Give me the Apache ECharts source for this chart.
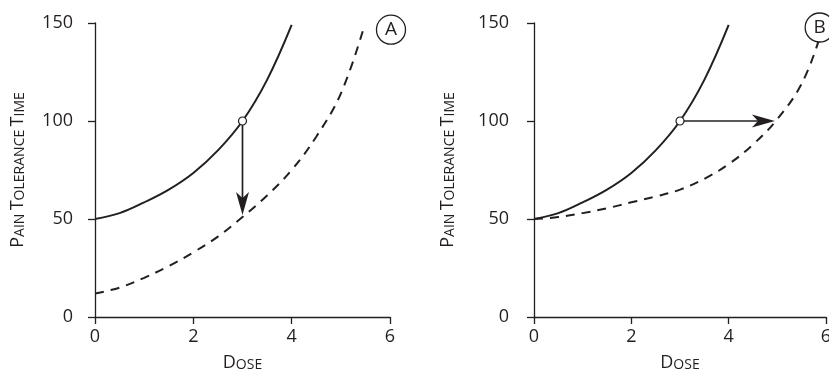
<!DOCTYPE html>
<html>
<head>
<meta charset="utf-8">
<script src="https://cdn.jsdelivr.net/npm/echarts@6/dist/echarts.min.js"></script>
<style>
  html, body { margin: 0; padding: 0; background: #ffffff; }
  #chart { width: 829px; height: 371px; }
</style>
</head>
<body>
<div id="chart"></div>
<script>
// ---- data ----
const xTicks = [0, 2, 4, 6];
const yTicks = [0, 50, 100, 150];

const doseSolid = [0, 0.5, 1, 1.5, 2, 2.5, 3, 3.5, 4];
const tolSolid  = [50, 53, 58.5, 65, 73.5, 85, 100, 121, 149];

const doseDashA = [0, 0.5, 1, 1.5, 2, 2.5, 3, 3.5, 4, 4.5, 5, 5.46];
const tolDashA  = [12, 15, 20, 26, 33, 41, 51, 62, 75, 92, 114, 147];

const doseDashB = [0, 0.5, 1, 1.5, 2, 2.5, 3, 3.5, 4, 4.5, 5, 5.5, 5.85];
const tolDashB  = [50, 51, 53, 55.5, 58.5, 61.5, 65, 70.5, 78, 88, 101, 119, 141];

const markerA = [3, 100];
const markerB = [3, 100];
const arrowA = [3, 100, 3, 52];     // from (x,y) to (x,y)
const arrowB = [3, 100, 4.95, 100];
const panelLabels = ['A', 'B'];
const labelPosA = [6.02, 146.6];
const labelPosB = [5.87, 147.7];

// ---- helpers ----
const INK = '#231f20';
const FONT = 'Open Sans';
const zip = (xs, ys) => xs.map((x, i) => [x, ys[i]]);

const nameRich = {
  a: { fontFamily: FONT, fontSize: 18, lineHeight: 18, color: INK, verticalAlign: 'bottom' },
  b: { fontFamily: FONT, fontSize: 14, lineHeight: 14, color: INK, verticalAlign: 'bottom' }
};

function xAxisCfg(gridIndex) {
  return {
    type: 'value', gridIndex, min: xTicks[0], max: xTicks[xTicks.length - 1], interval: 2,
    name: '{a|D}{b|OSE}', nameLocation: 'middle', nameGap: 37,
    nameTextStyle: { rich: nameRich },
    axisLine: { show: true, lineStyle: { color: INK, width: 1.3 } },
    axisTick: { show: true, inside: false, length: 7, lineStyle: { color: INK, width: 1.3 } },
    axisLabel: { show: true, margin: 11, fontFamily: FONT, fontSize: 18, color: INK },
    splitLine: { show: false }
  };
}
function yAxisCfg(gridIndex, nameGap, labelMargin) {
  return {
    type: 'value', gridIndex, min: yTicks[0], max: yTicks[yTicks.length - 1], interval: 50,
    offset: 8,
    name: '{a|P}{b|AIN} {a|T}{b|OLERANCE} {a|T}{b|IME}', nameLocation: 'middle', nameGap, nameRotate: 90,
    nameTextStyle: { rich: nameRich },
    axisLine: { show: true, lineStyle: { color: INK, width: 1.3 } },
    axisTick: { show: true, inside: false, length: 7, lineStyle: { color: INK, width: 1.3 } },
    axisLabel: { show: true, margin: labelMargin, fontFamily: FONT, fontSize: 18, color: INK },
    splitLine: { show: false }
  };
}
function curve(idx, xs, ys, dashed) {
  return {
    type: 'line', xAxisIndex: idx, yAxisIndex: idx, data: zip(xs, ys),
    smooth: 0.4, showSymbol: false, symbol: 'none', silent: true,
    lineStyle: { color: INK, width: 2, type: dashed ? [9, 7] : 'solid' }, z: 2
  };
}
function arrowSeries(idx, a) {
  return {
    type: 'custom', xAxisIndex: idx, yAxisIndex: idx, data: [a], z: 3, silent: true,
    renderItem(params, api) {
      const p1 = api.coord([api.value(0), api.value(1)]);
      const p2 = api.coord([api.value(2), api.value(3)]);
      const dx = p2[0] - p1[0], dy = p2[1] - p1[1];
      const len = Math.hypot(dx, dy), ux = dx / len, uy = dy / len;
      const L = 23, W = 6.5, N = 6;
      const nx = -uy, ny = ux;
      const base = [p2[0] - ux * L, p2[1] - uy * L];
      const notch = [p2[0] - ux * (L - N), p2[1] - uy * (L - N)];
      return {
        type: 'group',
        children: [
          { type: 'line', shape: { x1: p1[0], y1: p1[1], x2: notch[0], y2: notch[1] },
            style: { stroke: INK, lineWidth: 1.7 } },
          { type: 'polygon', shape: { points: [p2, [base[0] + nx * W, base[1] + ny * W], notch, [base[0] - nx * W, base[1] - ny * W]] },
            style: { fill: INK } }
        ]
      };
    }
  };
}
function marker(idx, p) {
  return {
    type: 'scatter', xAxisIndex: idx, yAxisIndex: idx, data: [p], symbol: 'circle', symbolSize: 8,
    itemStyle: { color: '#ffffff', borderColor: INK, borderWidth: 1.2, opacity: 1 }, z: 5, silent: true
  };
}
function panelLabel(idx, p, text) {
  return {
    type: 'scatter', xAxisIndex: idx, yAxisIndex: idx, data: [p], symbol: 'circle', symbolSize: 29,
    clip: false, silent: true, z: 6,
    itemStyle: { color: '#ffffff', borderColor: INK, borderWidth: 1.3, opacity: 1 },
    label: { show: true, position: 'inside', formatter: text, fontFamily: FONT, fontSize: 19, color: INK }
  };
}

const chart = echarts.init(document.getElementById('chart'), null, { renderer: 'canvas' });
chart.setOption({
  animation: false,
  backgroundColor: '#ffffff',
  grid: [
    { left: 95, width: 295, top: 23, bottom: 54, containLabel: false, outerBoundsMode: 'none' },
    { left: 534, width: 292, top: 23, bottom: 54, containLabel: false, outerBoundsMode: 'none' }
  ],
  xAxis: [xAxisCfg(0), xAxisCfg(1)],
  yAxis: [yAxisCfg(0, 60, 14), yAxisCfg(1, 69, 17)],
  series: [
    curve(0, doseSolid, tolSolid, false),
    curve(0, doseDashA, tolDashA, true),
    curve(1, doseSolid, tolSolid, false),
    curve(1, doseDashB, tolDashB, true),
    arrowSeries(0, arrowA),
    arrowSeries(1, arrowB),
    marker(0, markerA),
    marker(1, markerB),
    panelLabel(0, labelPosA, panelLabels[0]),
    panelLabel(1, labelPosB, panelLabels[1])
  ]
});
</script>
</body>
</html>
